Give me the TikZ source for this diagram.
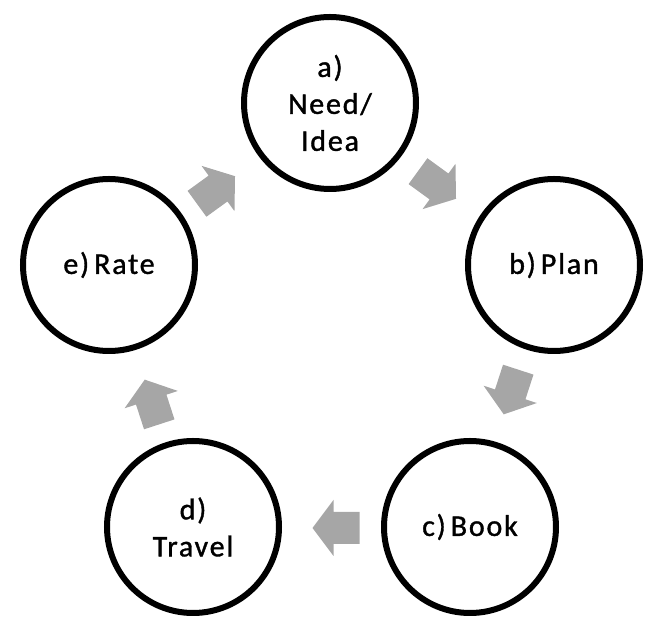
\documentclass[tikz,border=0pt]{standalone}
\usepackage{fontspec}
\setmainfont[LetterSpace=6,FakeBold=1.2]{Carlito}
\definecolor{arrowgray}{HTML}{A6A6A6}
\tikzset{
  stage/.style={circle, draw=black, line width=6pt, fill=white, minimum size=172pt,
    inner sep=0pt, align=center, font=\fontsize{30}{37}\selectfont},
  cyclearrow/.pic={\fill[arrowgray] (-23.5,-16) -- (2.5,-16) -- (2.5,-28) -- (23.5,0)
    -- (2.5,28) -- (2.5,16) -- (-23.5,16) -- cycle;}
}
\begin{document}
\begin{tikzpicture}[x=1pt,y=1pt]
\useasboundingbox (0,0) rectangle (649,618);
\node[stage] (a) at (330,515) {a)\\Need/\\Idea};
\node[stage] (b) at (554,353) {b)\,Plan};
\node[stage] (c) at (470,91) {c)\,Book};
\node[stage] (d) at (193,91) {d)\\Travel};
\node[stage] (e) at (109,353) {e)\,Rate};
\pic[rotate=36] (ea) at (216,428) {cyclearrow};
\pic[rotate=-36] (ab) at (437,433) {cyclearrow};
\pic[rotate=-108] (bc) at (511,226) {cyclearrow};
\pic[rotate=180] (cd) at (336,90) {cyclearrow};
\pic[rotate=108] (de) at (152,216) {cyclearrow};
\end{tikzpicture}
\end{document}
